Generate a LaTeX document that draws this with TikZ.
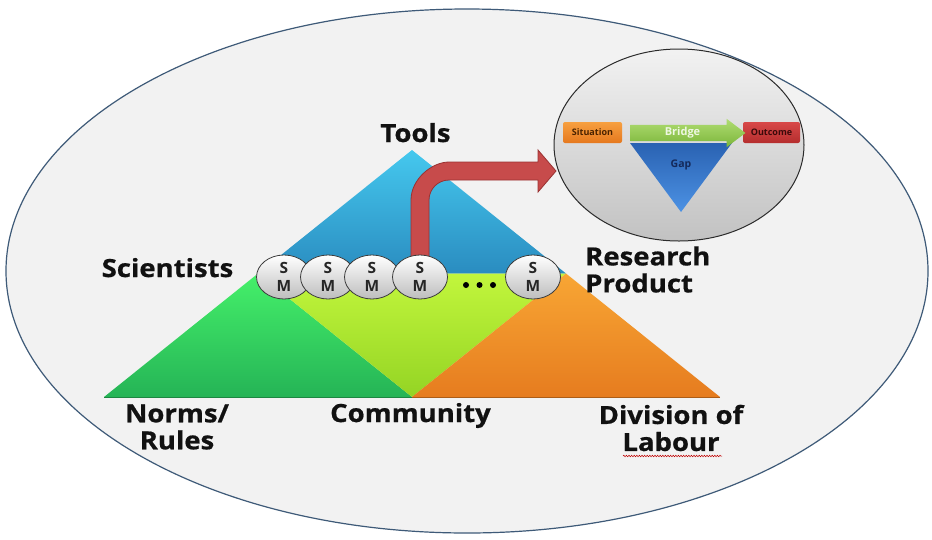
\documentclass[tikz,border=0pt]{standalone}
\usepackage{fontspec}
\setmainfont{Open Sans}
\newfontfamily\lblfont[FakeStretch=1.1, BoldFeatures={FakeBold=0.7}]{Open Sans}
\usetikzlibrary{shapes.geometric,shapes.arrows,decorations.pathmorphing,calc}
\pgfdeclarelayer{bglayer}
\pgfdeclarelayer{arrlayer}
\pgfsetlayers{bglayer,arrlayer,main}
\definecolor{frame}{HTML}{3E5A78}
\definecolor{bgfill}{HTML}{F2F2F2}
\definecolor{blueTop}{HTML}{45C8EE}
\definecolor{blueBot}{HTML}{2A8CC0}
\definecolor{greenTop}{HTML}{45F06A}
\definecolor{greenBot}{HTML}{25B456}
\definecolor{ygTop}{HTML}{C2F63C}
\definecolor{ygBot}{HTML}{94D424}
\definecolor{orTop}{HTML}{F8A634}
\definecolor{orBot}{HTML}{E67C1F}
\definecolor{redfill}{HTML}{C74B4B}
\definecolor{rededge}{HTML}{9A3232}
\definecolor{smedge}{HTML}{3C3C3C}
\definecolor{smbot}{HTML}{BDBDBD}
\definecolor{lblcol}{HTML}{111111}
\definecolor{insTop}{HTML}{F2F2F2}
\definecolor{insBot}{HTML}{C2C2C2}
\definecolor{insedge}{HTML}{2B2B2B}
\definecolor{sitTop}{HTML}{F7A040}
\definecolor{sitBot}{HTML}{E5781E}
\definecolor{sittext}{HTML}{4A2200}
\definecolor{brTop}{HTML}{B0DD72}
\definecolor{brBot}{HTML}{7BB53A}
\definecolor{brtext}{HTML}{EEF7E2}
\definecolor{outTop}{HTML}{D84848}
\definecolor{outBot}{HTML}{B52E2E}
\definecolor{outtext}{HTML}{3A0A0A}
\definecolor{gapTop}{HTML}{2A62B2}
\definecolor{gapBot}{HTML}{4C92E4}
\definecolor{gaptext}{HTML}{14295A}
\begin{document}
\begin{tikzpicture}[x=1pt,y=-1pt,
  lbl/.style={font=\lblfont\bfseries\fontsize{25}{27}\selectfont, inner sep=0pt, text=lblcol},
  smnode/.style={ellipse, draw=smedge, line width=0.8pt, top color=white, bottom color=smbot,
    minimum width=55pt, minimum height=44pt, inner sep=0pt, align=center,
    font=\bfseries\fontsize{15.5}{18}\selectfont, text=black!85},
  insbox/.style={rounded corners=2pt, minimum height=21pt, inner sep=0pt,
    font=\bfseries\fontsize{9}{10}\selectfont},
  dotnode/.style={circle, fill=black, minimum size=6pt, inner sep=0pt}]

\useasboundingbox (0,0) rectangle (932,539);
\begin{pgfonlayer}{bglayer}
\fill[white] (0,0) rectangle (932,539);
\node[ellipse, draw=frame, line width=1.2pt, fill=bgfill, minimum width=922pt,
  minimum height=524pt, inner sep=0pt] (frame) at (467,271) {};

% activity triangle
\coordinate (A) at (412,150);
\coordinate (L) at (104,397);
\coordinate (R) at (720,397);
\coordinate (ML) at (258,273.5);
\coordinate (MR) at (566,273.5);
\coordinate (MB) at (412,397);
\shade[top color=blueTop, bottom color=blueBot] (A) -- (ML) -- (MR) -- cycle;
\shade[top color=greenTop, bottom color=greenBot] (ML) -- (L) -- (MB) -- cycle;
\shade[top color=ygTop, bottom color=ygBot] (ML) -- (MR) -- (MB) -- cycle;
\shade[top color=orTop, bottom color=orBot] (MR) -- (MB) -- (R) -- cycle;
\draw[greenBot!75!black, line width=1pt] (L) -- (MB);
\draw[orBot!75!black, line width=1pt] (MB) -- (R);
\end{pgfonlayer}

\coordinate (tip) at (556,171);

\node[smnode] (sm1) at (284,277) {S\\M};
\node[smnode] (sm2) at (328,277) {S\\M};
\node[smnode] (sm3) at (372,277) {S\\M};
\node[smnode] (sm4) at (420,277) {S\\M};
\node[dotnode] (d1) at (466,285) {};
\node[dotnode] (d2) at (479.5,285) {};
\node[dotnode] (d3) at (493,285) {};
\node[smnode] (sm5) at (533,277) {S\\M};

% red arrow
\begin{pgfonlayer}{arrlayer}
\path[fill=redfill, draw=rededge, line width=0.8pt]
  let \p1=(sm4.center), \p2=(tip) in
  (\x1-9pt,\y1) -- (\x1-9pt,\y2-29pt)
  .. controls (\x1-9pt,\y2-8pt) and (\x1+12pt,\y2+9pt) .. (\x1+29pt,\y2+9pt)
  -- (\x2-18pt,\y2+9pt) -- (\x2-18pt,\y2+21pt) -- (\x2,\y2)
  -- (\x2-18pt,\y2-21pt) -- (\x2-18pt,\y2-9pt) -- (\x1+29pt,\y2-9pt)
  .. controls (\x1+18pt,\y2-9pt) and (\x1+9pt,\y2-18pt) .. (\x1+9pt,\y2-29pt)
  -- (\x1+9pt,\y1) -- cycle;
\end{pgfonlayer}

% labels
\node[lbl, anchor=base] (tools) at (415.5,142) {Tools};
\node[lbl, anchor=base] (sci) at (167.5,277) {Scientists};
\node[lbl, anchor=west, align=left] (rp) at (585,269.5) {Research\\Product};
\node[lbl, align=center] (norms) at (177,427) {Norms/\\Rules};
\node[lbl, anchor=base] (comm) at (410.5,422) {Community};
\node[lbl, align=center] (div) at (671,428) {Division of\\Labour};
\draw[red!75!black, line width=0.5pt, decorate,
  decoration={snake, amplitude=0.8pt, segment length=2.6pt}] (623,456) -- (722,456);

% inset
\node[ellipse, draw=insedge, line width=1pt, top color=insTop, bottom color=insBot,
  minimum width=250pt, minimum height=192pt, inner sep=0pt] (inset) at (679,145) {};
\shade[top color=gapTop, bottom color=gapBot] (630,143) -- (732,143) -- (681,212) -- cycle;
\node[font=\bfseries\fontsize{10.5}{12}\selectfont, text=gaptext] (gap) at (681,165) {Gap};
\node[insbox, top color=sitTop, bottom color=sitBot, minimum width=59pt, text=sittext] (sit) at (592.5,132.5) {Situation};
\node[insbox, top color=outTop, bottom color=outBot, minimum width=57pt, text=outtext] (out) at (771.5,132.5) {Outcome};
\node[single arrow, top color=brTop, bottom color=brBot, minimum height=115pt, minimum width=28pt,
  single arrow head extend=6pt, single arrow tip angle=74, inner xsep=1pt, inner ysep=2.5pt,
  font=\bfseries\fontsize{11}{12}\selectfont, text=brtext] (bridge) at (682.5,133) {Bridge};
\end{tikzpicture}
\end{document}
